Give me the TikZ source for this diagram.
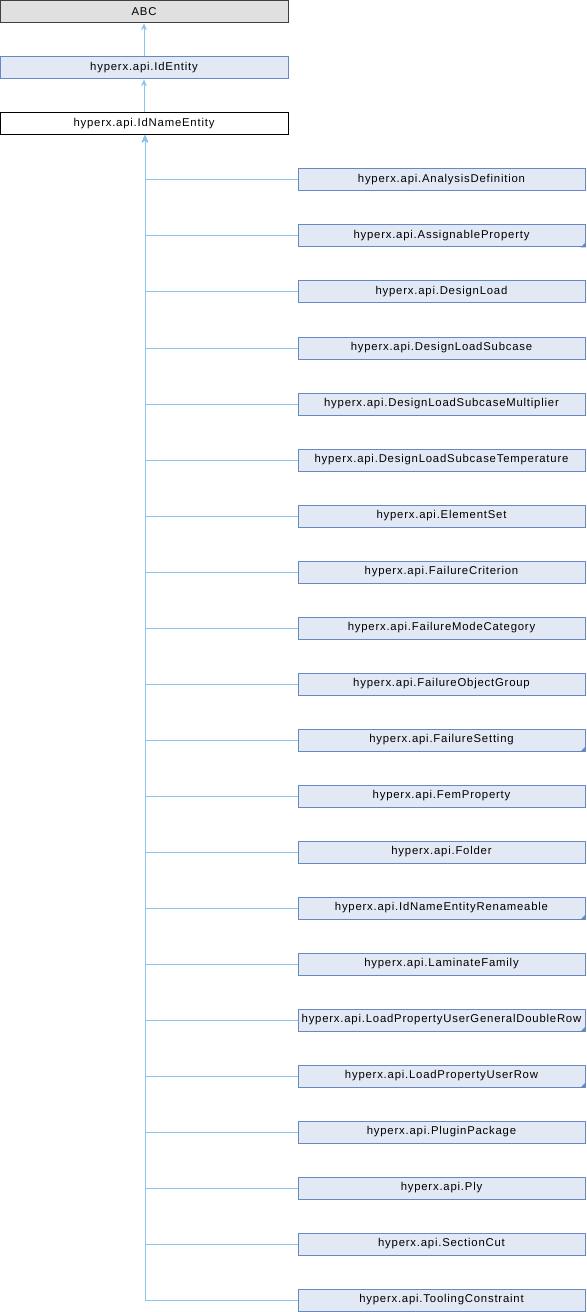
\documentclass[tikz,border=0pt]{standalone}
\usepackage{fontspec}
\setmainfont{Liberation Sans}[LetterSpace=7]
\usetikzlibrary{arrows.meta}
\definecolor{edgec}{RGB}{140,196,234}
\definecolor{boxfill}{RGB}{226,232,244}
\definecolor{boxdraw}{RGB}{102,136,196}
\definecolor{greyfill}{RGB}{224,224,224}
\tikzset{
  base/.style={rectangle, minimum height=16.5pt, inner sep=0pt, font=\fontsize{8.5pt}{10pt}\selectfont, line width=0.75pt},
  topbox/.style={base, minimum width=216pt},
  cbox/.style={base, minimum width=215.25pt, fill=boxfill, draw=boxdraw},
  edge/.style={draw=edgec, line width=0.75pt, -{Stealth[length=5pt,width=4.5pt,fill=edgec]}},
  corner/.style={fill=boxdraw}
}
\begin{document}
\begin{tikzpicture}[x=0.75pt,y=-0.75pt]
\useasboundingbox (0,0) rectangle (586,1312);
\node[topbox, fill=greyfill, draw=black!75] (abc) at (144,12) {ABC};
\node[topbox, fill=boxfill, draw=boxdraw] (ide) at (144,68) {hyperx.api.IdEntity};
\node[topbox, fill=white, draw=black] (idn) at (144,124) {hyperx.api.IdNameEntity};
\draw[edge] (ide) -- (abc);
\draw[edge] (idn) -- (ide);
\foreach \i/\name/\tri in {
 0/AnalysisDefinition/0,
 1/AssignableProperty/1,
 2/DesignLoad/0,
 3/DesignLoadSubcase/0,
 4/DesignLoadSubcaseMultiplier/0,
 5/DesignLoadSubcaseTemperature/0,
 6/ElementSet/0,
 7/FailureCriterion/0,
 8/FailureModeCategory/0,
 9/FailureObjectGroup/0,
 10/FailureSetting/1,
 11/FemProperty/0,
 12/Folder/0,
 13/IdNameEntityRenameable/1,
 14/LaminateFamily/0,
 15/LoadPropertyUserGeneralDoubleRow/1,
 16/LoadPropertyUserRow/1,
 17/PluginPackage/0,
 18/Ply/0,
 19/SectionCut/0,
 20/ToolingConstraint/0}{
  \node[cbox] (c\i) at (441.5,{180+56*\i}) {hyperx.api.\name};
  \draw[edge] (c\i.west) -| ([xshift=0.75pt]idn.south);
  \ifnum\tri=1
    \fill[corner] (c\i.south east) -- ++(-5,0) -- ++(5,-5) -- cycle;
  \fi
}
\end{tikzpicture}
\end{document}
